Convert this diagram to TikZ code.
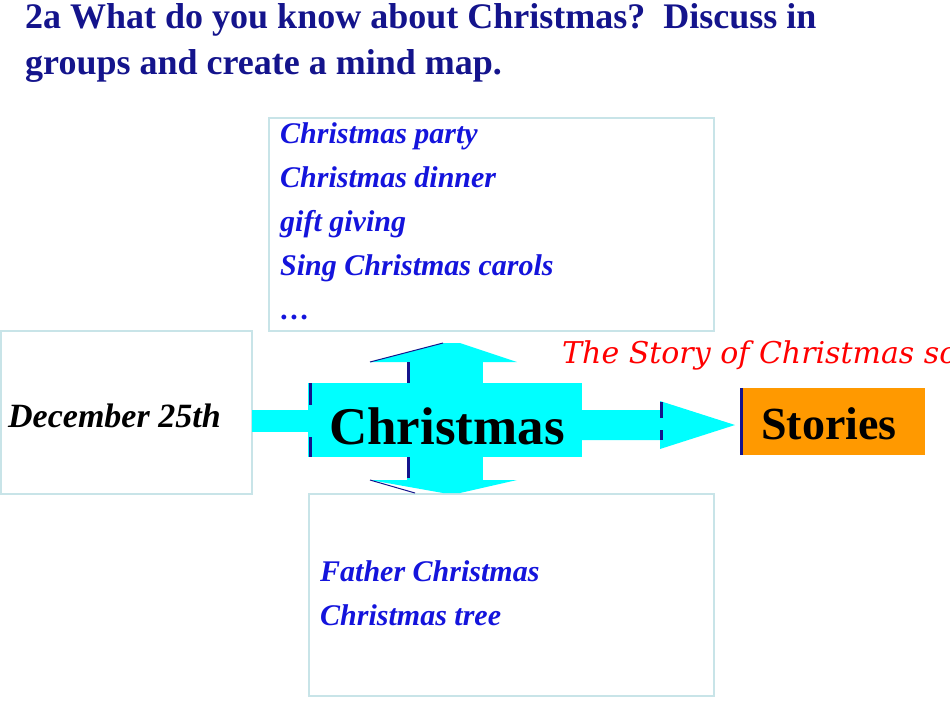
\documentclass[tikz,border=0pt]{standalone}
\usepackage{fontspec}
\setmainfont{Liberation Serif}
\newfontfamily\dvs{DejaVu Serif}
\definecolor{navy}{RGB}{20,20,140}
\definecolor{bx}{RGB}{200,228,232}
\definecolor{cy}{RGB}{0,255,255}
\definecolor{orng}{RGB}{255,153,0}
\definecolor{scr}{RGB}{20,20,220}
\begin{document}
\begin{tikzpicture}[x=1pt,y=-1pt,
  box/.style={draw=bx,line width=1.5pt},
  scrtxt/.style={font=\fontsize{30}{44}\selectfont\bfseries\itshape,text=scr,anchor=north west,align=left,inner sep=0}]
\useasboundingbox (0,0) rectangle (950,713);
\clip (0,0) rectangle (950,713);
\node[anchor=north west,align=left,text=navy,font=\fontsize{36}{46}\selectfont\bfseries,inner sep=0] (title) at (25,3) {2a What do you know about Christmas?\ \ Discuss in\\groups and create a mind map.};
\node[box,minimum width=445,minimum height=213,anchor=north west] (top) at (268,117) {};
\node[box,minimum width=251,minimum height=163,anchor=north west] (left) at (0,330) {};
\node[box,minimum width=405,minimum height=202,anchor=north west] (bot) at (308,493) {};
\node[scrtxt] (acts) at (280,122) {Christmas party\\Christmas dinner\\gift giving\\Sing Christmas carols\\\ldots};
\node[scrtxt,anchor=west,text=black,font=\fontsize{34}{40}\selectfont\bfseries\itshape] (date) at (8,416) {December 25th};
\node[scrtxt] (fc) at (320,560) {Father Christmas\\Christmas tree};
% cross shape
\fill[cy] (252,410) rectangle (308,432);
\fill[cy] (308,383) rectangle (582,457);
\fill[cy] (407,362) rectangle (483,383);
\fill[cy] (407,457) rectangle (483,480);
\fill[cy] (370,362) -- (443,343) -- (460,343) -- (517,362) -- cycle;
\fill[cy] (370,480) -- (443,493) -- (460,493) -- (517,480) -- cycle;
\draw[navy,line width=1pt] (370,362) -- (443,343);
\draw[navy,line width=1pt] (370,480) -- (415,493);
\fill[cy] (582,410) rectangle (660,440) (660,401) -- (735,425) -- (660,449) -- cycle;
\draw[navy,line width=3pt] (310,383) -- (310,405) (310,437) -- (310,457) (408,362) -- (408,383) (408,457) -- (408,478) (661,402) -- (661,418) (661,430) -- (661,440);
\node[font=\fontsize{53}{60}\selectfont\bfseries] (xmas) at (447,426) {Christmas};
\node[fill=orng,minimum width=185,minimum height=67,anchor=north west,inner sep=0] (stories) at (740,388) {};
\node[font=\fontsize{46}{52}\selectfont\bfseries] (stlab) at (829,424) {Stories};
\draw[navy,line width=3pt] (741,388) -- (741,455);
\node[anchor=west,text=red,font=\dvs\fontsize{30}{34}\selectfont\itshape,inner sep=0] (story) at (562,355) {The Story of Christmas song};
\end{tikzpicture}
\end{document}
